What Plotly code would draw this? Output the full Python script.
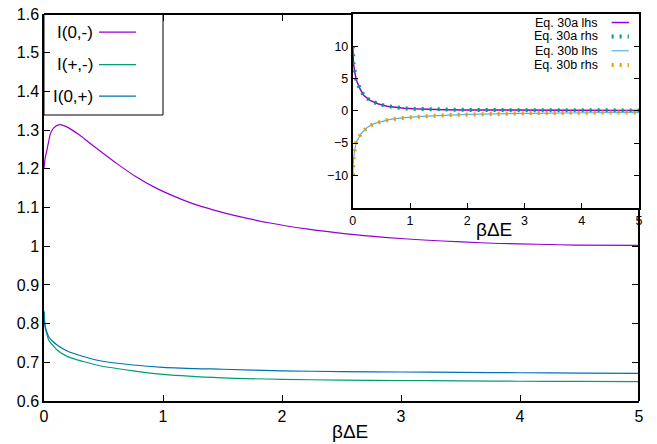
import plotly.graph_objects as go

# ---------------- data ----------------
x_i0m = [0, 0.01, 0.025, 0.04, 0.053, 0.08, 0.13, 0.2, 0.29, 0.37, 0.45, 0.61, 0.77, 0.93, 1.1, 1.25,
         1.42, 1.58, 1.9, 2.22, 2.54, 2.86, 3.19, 3.51, 3.83, 4.15, 4.47, 5.0]
y_i0m = [1.2, 1.228, 1.249, 1.272, 1.29, 1.305, 1.314, 1.307, 1.289, 1.270, 1.251, 1.214, 1.180, 1.152,
         1.128, 1.110, 1.094, 1.081, 1.060, 1.044, 1.032, 1.023, 1.016, 1.011, 1.007, 1.005, 1.003, 1.002]

x_low = [0, 0.005, 0.012, 0.025, 0.04, 0.07, 0.11, 0.19, 0.33, 0.47, 0.75, 1, 1.5, 2, 2.5, 3, 3.5, 4, 4.5, 5]
y_ipm = [0.831, 0.803, 0.787, 0.772, 0.757, 0.745, 0.732, 0.716, 0.702, 0.691, 0.678, 0.669, 0.660,
         0.656, 0.654, 0.653, 0.652, 0.651, 0.6505, 0.650]
y_i0p = [0.831, 0.805, 0.790, 0.777, 0.766, 0.755, 0.745, 0.730, 0.715, 0.704, 0.693, 0.687, 0.682,
         0.678, 0.676, 0.675, 0.674, 0.673, 0.672, 0.6715]

x_30a = [0, 0.002, 0.006, 0.012, 0.035, 0.06, 0.12, 0.19, 0.3, 0.45, 0.6, 0.75, 0.9, 1.05, 1.3, 1.6,
         2, 2.5, 3, 3.5, 4, 4.5, 5]
y_30a = [10, 9.2, 8.6, 7.3, 6.0, 4.8, 3.5, 2.4, 1.6, 1.05, 0.7, 0.5, 0.38, 0.3, 0.22, 0.17,
         0.13, 0.1, 0.08, 0.07, 0.06, 0.05, 0.05]
x_30b = [0, 0.002, 0.006, 0.012, 0.03, 0.06, 0.14, 0.25, 0.37, 0.5, 0.65, 0.83, 1.0, 1.2, 1.4, 1.7,
         2, 2.5, 3, 3.5, 4, 4.5, 5]
y_30b = [-10, -9.3, -8.7, -7.5, -6.2, -4.9, -3.6, -2.6, -2.0, -1.65, -1.35, -1.15, -1.0, -0.88, -0.78,
         -0.66, -0.57, -0.47, -0.4, -0.34, -0.3, -0.27, -0.25]

main_xticks = [0, 1, 2, 3, 4, 5]
main_yticks = [0.6, 0.7, 0.8, 0.9, 1.0, 1.1, 1.2, 1.3, 1.4, 1.5, 1.6]
main_ylabels = ["0.6", "0.7", "0.8", "0.9", "1", "1.1", "1.2", "1.3", "1.4", "1.5", "1.6"]
inset_xticks = [0, 1, 2, 3, 4, 5]
inset_yticks = [-10, -5, 0, 5, 10]

main_names = ["I(0,-)", "I(+,-)", "I(0,+)"]
inset_names = ["Eq. 30a lhs", "Eq. 30a rhs", "Eq. 30b lhs", "Eq. 30b rhs"]

# ---------------- styles ----------------
PURPLE = "#9400D3"
GREEN = "#009E73"
BLUE = "#0072B2"
LBLUE = "#56B4E9"
ORANGE = "#E69F00"
FONT = "Liberation Sans"
RHS_DASH = "2px,6px"

INSET_X0 = 0.519
INSET_Y0 = 0.5

fig = go.Figure()

# main curves
fig.add_trace(go.Scatter(x=x_i0m, y=y_i0m, mode="lines",
                         line=dict(color=PURPLE, width=1.2, shape="spline", smoothing=0.8),
                         xaxis="x", yaxis="y"))
fig.add_trace(go.Scatter(x=x_low, y=y_ipm, mode="lines",
                         line=dict(color=GREEN, width=1.2, shape="spline", smoothing=0.8),
                         xaxis="x", yaxis="y"))
fig.add_trace(go.Scatter(x=x_low, y=y_i0p, mode="lines",
                         line=dict(color=BLUE, width=1.2, shape="spline", smoothing=0.8),
                         xaxis="x", yaxis="y"))

# inset curves
fig.add_trace(go.Scatter(x=x_30a, y=y_30a, mode="lines", line=dict(color=PURPLE, width=1.5),
                         xaxis="x2", yaxis="y2"))
fig.add_trace(go.Scatter(x=x_30a, y=y_30a, mode="lines", line=dict(color=GREEN, width=4, dash=RHS_DASH),
                         xaxis="x2", yaxis="y2"))
fig.add_trace(go.Scatter(x=x_30b, y=y_30b, mode="lines", line=dict(color=LBLUE, width=1.2),
                         xaxis="x2", yaxis="y2"))
fig.add_trace(go.Scatter(x=x_30b, y=y_30b, mode="lines", line=dict(color=ORANGE, width=4, dash=RHS_DASH),
                         xaxis="x2", yaxis="y2"))

# helper subplot for the main frame's top / right ticks outside the inset
fig.add_trace(go.Scatter(x=[], y=[], mode="lines", xaxis="x3", yaxis="y3", hoverinfo="skip"))

ax_common = dict(showgrid=False, zeroline=False, showline=True, linecolor="black", automargin=False,
                 ticks="inside", tickcolor="black", tickwidth=1, color="black")

fig.update_layout(
    width=657, height=444, autosize=False,
    margin=dict(l=44, r=18, t=14, b=43, autoexpand=False),
    paper_bgcolor="white", plot_bgcolor="rgba(0,0,0,0)",
    showlegend=False,
    font=dict(family=FONT, color="black"),
    xaxis=dict(**ax_common, domain=[0, 1], range=[0, 5], anchor="y", linewidth=1.5, ticklen=6,
               tickvals=main_xticks, tickfont=dict(size=16)),
    yaxis=dict(**ax_common, domain=[0, 1], range=[0.6, 1.6], anchor="x", linewidth=1.5, ticklen=6,
               tickvals=main_yticks, ticktext=main_ylabels, tickfont=dict(size=16)),
    xaxis2=dict(**ax_common, domain=[INSET_X0, 1], range=[0, 5], anchor="y2", linewidth=2, ticklen=5,
                mirror=True, tickvals=inset_xticks, tickfont=dict(size=12.5)),
    yaxis2=dict(**ax_common, domain=[INSET_Y0, 1], range=[-15, 15], anchor="x2", linewidth=2, ticklen=5,
                mirror="ticks", tickvals=inset_yticks, tickfont=dict(size=12.5)),
    xaxis3=dict(**ax_common, domain=[0, INSET_X0], range=[0, 5 * INSET_X0], anchor="free", position=1,
                side="top", linewidth=1.5, ticklen=6, tickvals=[0, 1, 2], showticklabels=False),
    yaxis3=dict(**ax_common, domain=[0, INSET_Y0], range=[0.6, 0.6 + 1.0 * INSET_Y0], anchor="free",
                position=1, side="right", linewidth=1.5, ticklen=6, tickvals=main_yticks[:6],
                showticklabels=False),
)

# axis titles
fig.add_annotation(text="βΔE", xref="paper", yref="paper", x=0.515, y=-0.079, showarrow=False,
                   xanchor="center", yanchor="middle", font=dict(size=19, family=FONT))
fig.add_annotation(text="βΔE", xref="paper", yref="paper", x=0.756, y=0.442, showarrow=False,
                   xanchor="center", yanchor="middle", font=dict(size=19, family=FONT))

# main key (text left, sample right, boxed)
fig.add_shape(type="rect", xref="paper", yref="paper", x0=0, x1=0.2, y0=0.739, y1=1,
              line=dict(color="black", width=1), layer="above")
for name, col, yy in zip(main_names, [PURPLE, GREEN, BLUE], [0.953, 0.869, 0.788]):
    fig.add_annotation(text=name, xref="paper", yref="paper", x=0.086, y=yy, showarrow=False,
                       xanchor="right", yanchor="middle", font=dict(size=17, family=FONT))
    fig.add_shape(type="line", xref="paper", yref="paper", x0=0.0924, x1=0.1546, y0=yy, y1=yy,
                  line=dict(color=col, width=1.3), layer="above")

# inset key
inset_styles = [(PURPLE, 1.5, "solid"), (GREEN, 4, RHS_DASH), (LBLUE, 1.2, "solid"), (ORANGE, 4, RHS_DASH)]
for name, (col, w, d), yy in zip(inset_names, inset_styles, [0.978, 0.942, 0.905, 0.868]):
    fig.add_annotation(text=name, xref="paper", yref="paper", x=0.9345, y=yy, showarrow=False,
                       xanchor="right", yanchor="middle", font=dict(size=12.5, family=FONT))
    fig.add_shape(type="line", xref="paper", yref="paper", x0=0.954, x1=0.983, y0=yy, y1=yy,
                  line=dict(color=col, width=w, dash=d), layer="above")

fig.write_html("out.html", config={"displayModeBar": False},
               post_script="document.body.style.margin='0';")
